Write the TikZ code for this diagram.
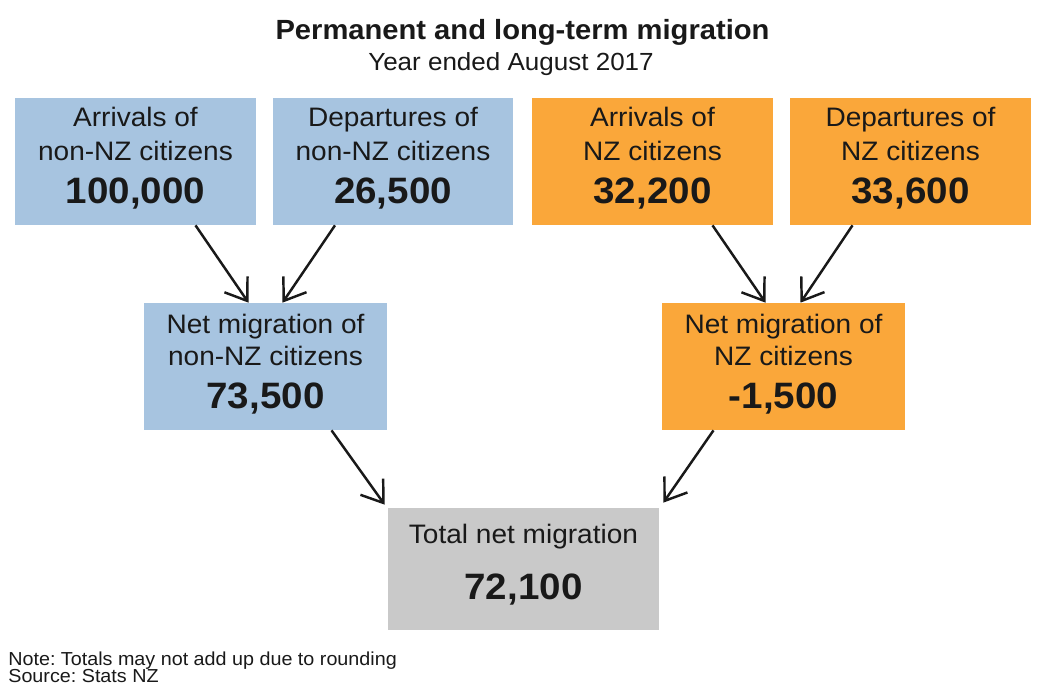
\documentclass[tikz,border=0pt]{standalone}
\usepackage{fontspec}
\setmainfont{Liberation Sans}[FakeStretch=1.05]
\usetikzlibrary{arrows.meta,calc}
\definecolor{nzblue}{RGB}{167,196,224}
\definecolor{nzorange}{RGB}{250,167,58}
\definecolor{nzgrey}{RGB}{201,201,201}
\definecolor{ink}{RGB}{25,25,25}
\frenchspacing
% big bold figure; the optional depth lifts the text block in its box
\newcommand{\bignum}[2][3.4pt]{{\fontsize{20.9}{19}\selectfont\bfseries
  \raisebox{0pt}[\height][\dimexpr\depth+#1\relax]{#2}}}
\tikzstyle{box}=[rectangle,minimum width=4.82cm,minimum height=2.54cm,inner sep=0pt,
  align=center,text=ink,font=\fontsize{15.2}{19.35}\selectfont]
\tikzstyle{blue box}=[box,fill=nzblue]
\tikzstyle{orange box}=[box,fill=nzorange]
\tikzstyle{net box}=[font=\fontsize{15.2}{18.2}\selectfont,minimum width=4.86cm]
\tikzstyle{flow}=[draw=ink,line width=1.4pt,-{Straight Barb[length=0.4cm,width=0.56cm]}]

\begin{document}
\begin{tikzpicture}[x=0.02cm,y=-0.02cm]
  \fill[white] (0,0) rectangle (1050,699);
  \useasboundingbox (0,0) rectangle (1050,699);

  \node[anchor=base,text=ink,font=\fontsize{15.8}{18}\selectfont\bfseries] (title) at (522.5,40)
    {Permanent and long-term migration};
  \node[anchor=base,text=ink,font=\fontsize{14.1}{16}\selectfont] (subtitle) at (511,71)
    {Year ended August 2017};

  % flows in
  \node[blue box] (arr-other) at (135.5,161.5) {Arrivals of\\non-NZ citizens\\[5.1pt]\bignum{100,000}};
  \node[blue box] (dep-other) at (393,161.5) {Departures of\\non-NZ citizens\\[5.1pt]\bignum{26,500}};
  \node[orange box] (arr-nz) at (652.5,161.5) {Arrivals of\\NZ citizens\\[5.1pt]\bignum{32,200}};
  \node[orange box] (dep-nz) at (910.5,161.5) {Departures of\\NZ citizens\\[5.1pt]\bignum{33,600}};

  % net per group
  \node[blue box,net box] (net-other) at (265.5,366.5) {Net migration of\\non-NZ citizens\\[6.3pt]\bignum[2.3pt]{73,500}};
  \node[orange box,net box] (net-nz) at (783.5,366.5) {Net migration of\\NZ citizens\\[6.3pt]\bignum[2.3pt]{-1,500}};

  % total
  \node[box,fill=nzgrey,minimum width=5.42cm,minimum height=2.44cm,font=\fontsize{15.2}{19}\selectfont]
    (total) at (523.5,569) {Total net migration\\[12.9pt]\bignum[5.1pt]{72,100}};

  \foreach \from/\to/\dx/\ex in {arr-other/net-other/60/-17, dep-other/net-other/-58/17,
                                  arr-nz/net-nz/60/-18, dep-nz/net-nz/-58/17}
    \draw[flow] ($(\from.south)+(\dx,0)$) -- ($(\to.north)+(\ex,0)$);
  \draw[flow] ($(net-other.south)+(66,0)$) -- ($(total.north west)+(-3,-3)$);
  \draw[flow] ($(net-nz.south)+(-70,0)$) -- ($(total.north east)+(4,-5)$);

  \node[anchor=base west,text=ink,font=\fontsize{10.7}{12}\selectfont,inner sep=0pt] (note) at (8,665)
    {Note: Totals may not add up due to rounding};
  \node[anchor=base west,text=ink,font=\fontsize{10.7}{12}\selectfont,inner sep=0pt] (source) at (8,682)
    {Source: Stats NZ};
\end{tikzpicture}
\end{document}
